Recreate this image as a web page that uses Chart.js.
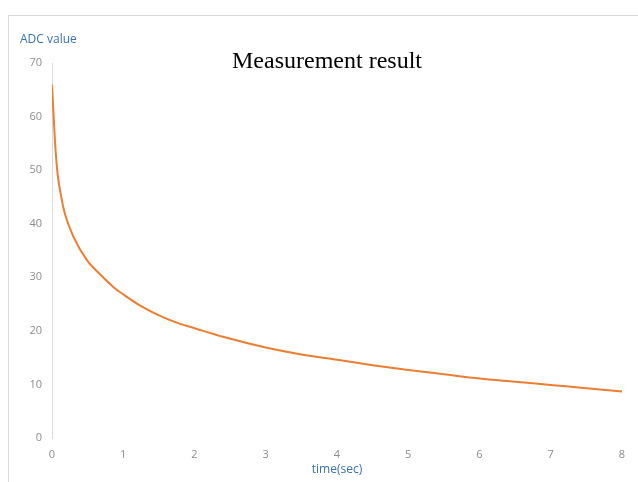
<!DOCTYPE html>
<html>
<head>
<meta charset="utf-8">
<script src="https://cdn.jsdelivr.net/npm/chart.js@4.4.0/dist/chart.umd.js"></script>
<style>
    html, body { margin: 0; padding: 0; background: #fff; }
    #wrap { position: relative; width: 638px; height: 482px; overflow: hidden; }
    #frame {
        position: absolute; left: 8px; top: 15px; width: 700px; height: 600px;
        border-left: 1px solid #d9d9d9; border-top: 1px solid #d9d9d9;
    }
    #chart { position: absolute; left: 0; top: 0; }
</style>
</head>
<body>
<div id="wrap">
    <div id="frame"></div>
    <canvas id="chart" width="638" height="482"></canvas>
</div>
<script>
const timeSec  = [0, 0.042, 0.08, 0.12, 0.18, 0.30, 0.49, 0.67, 0.86, 1.0, 1.25, 1.5, 1.8, 2.0, 2.4, 3.0, 3.5, 4.0, 4.5, 5.0, 5.5, 6.0, 6.5, 7.0, 7.5, 8.0];
const adcValue = [66, 55.3, 49.1, 45.7, 41.9, 37.6, 33.2, 30.6, 28.2, 26.8, 24.6, 22.9, 21.3, 20.5, 18.9, 16.9, 15.6, 14.6, 13.6, 12.7, 11.9, 11.1, 10.5, 9.9, 9.3, 8.7];
const xTicks = [0, 1, 2, 3, 4, 5, 6, 7, 8];
const yTicks = [0, 10, 20, 30, 40, 50, 60, 70];

const chartTitle = 'Measurement result';
const yLabel = 'ADC value';
const xLabel = 'time(sec)';

// Title and the y label sit over the plot, so draw them by hand
const textPlugin = {
    id: 'textPlugin',
    afterDraw(chart) {
        const ctx = chart.ctx;
        ctx.save();
        ctx.fillStyle = '#000';
        ctx.font = '24px "Liberation Serif", "Times New Roman", serif';
        ctx.textAlign = 'center';
        ctx.textBaseline = 'alphabetic';
        ctx.fillText(chartTitle, 327, 68);
        ctx.fillStyle = '#3a70b5';
        ctx.font = '12px "Open Sans", "Noto Sans", sans-serif';
        ctx.textAlign = 'left';
        ctx.textBaseline = 'middle';
        ctx.fillText(yLabel, 20, 40);
        ctx.restore();
    }
};

const points = timeSec.map((t, i) => ({ x: t, y: adcValue[i] }));

new Chart(document.getElementById('chart').getContext('2d'), {
    type: 'scatter',
    data: {
        datasets: [{
            data: points,
            showLine: true,
            borderColor: '#ed7d31',
            backgroundColor: '#ed7d31',
            borderWidth: 2,
            pointRadius: 0,
            cubicInterpolationMode: 'monotone'
        }]
    },
    options: {
        responsive: false,
        animation: false,
        layout: {
            padding: { top: 63, right: 16, bottom: 0, left: 0 }
        },
        plugins: {
            legend: { display: false },
            tooltip: { enabled: false }
        },
        scales: {
            x: {
                type: 'linear',
                min: 0,
                max: 8,
                afterBuildTicks: (scale) => {
                    scale.ticks = xTicks.map(v => ({ value: v }));
                },
                afterFit: (scale) => { scale.height = 44; },
                grid: { display: false, drawTicks: false },
                border: { display: false },
                ticks: {
                    color: '#8c8c8c',
                    padding: 10,
                    font: { family: '"Open Sans", "Noto Sans", sans-serif', size: 11 }
                },
                title: {
                    display: true,
                    text: xLabel,
                    color: '#3a70b5',
                    padding: { top: 0, bottom: 5 },
                    font: { family: '"Open Sans", "Noto Sans", sans-serif', size: 12 }
                }
            },
            y: {
                min: 0,
                max: 70,
                afterBuildTicks: (scale) => {
                    scale.ticks = yTicks.map(v => ({ value: v }));
                },
                afterFit: (scale) => { scale.width = 52; },
                grid: { display: false, drawTicks: false },
                border: { display: true, color: '#d9d9d9', width: 1 },
                ticks: {
                    color: '#8c8c8c',
                    padding: 10,
                    font: { family: '"Open Sans", "Noto Sans", sans-serif', size: 11 }
                }
            }
        }
    },
    plugins: [textPlugin]
});
</script>
</body>
</html>
